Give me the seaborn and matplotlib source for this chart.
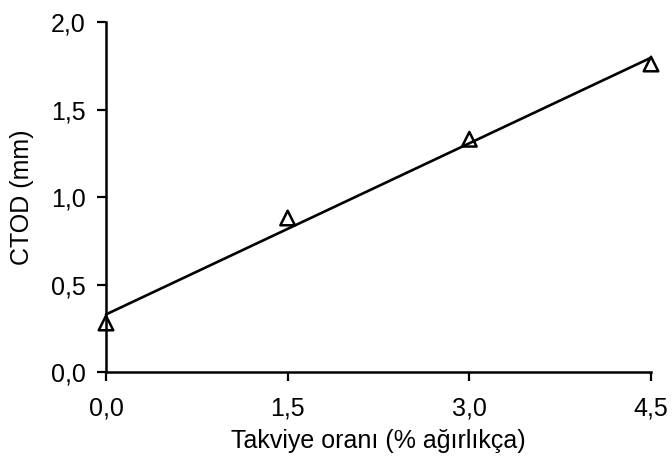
import matplotlib
matplotlib.use("Agg")
import matplotlib.pyplot as plt
import seaborn as sns
import pandas as pd
from matplotlib.ticker import FixedLocator, FuncFormatter

# Data
takviye = [0.0, 1.5, 3.0, 4.5]          # Takviye oranı (% ağırlıkça)
ctod = [0.28, 0.88, 1.33, 1.76]         # CTOD (mm)
x_ticks = [0.0, 1.5, 3.0, 4.5]
y_ticks = [0.0, 0.5, 1.0, 1.5, 2.0]

df = pd.DataFrame({"Takviye": takviye, "CTOD": ctod})

sns.set_style("ticks")
plt.rcParams["font.family"] = ["Liberation Sans", "DejaVu Sans"]

fig = plt.figure(figsize=(6.72, 4.70), dpi=100)
ax = fig.add_axes([106/672, 1-372/470, (651-106)/672, (372-22)/470])

sns.regplot(data=df, x="Takviye", y="CTOD", ax=ax, ci=None, truncate=True,
            marker="^",
            scatter_kws=dict(s=110, facecolors="none", edgecolors="black", linewidths=1.8,
                             alpha=1, zorder=3),
            line_kws=dict(color="black", linewidth=1.9))

ax.set_xlim(0, 4.5)
ax.set_ylim(0, 2.0)
ax.xaxis.set_major_locator(FixedLocator(x_ticks))
ax.yaxis.set_major_locator(FixedLocator(y_ticks))
fmt = FuncFormatter(lambda v, p: f"{v:.1f}".replace(".", ","))
ax.xaxis.set_major_formatter(fmt)
ax.yaxis.set_major_formatter(fmt)

fs = 18
ax.set_xlabel("Takviye oranı (% ağırlıkça)", fontsize=fs, labelpad=6, color="black")
ax.set_ylabel("CTOD (mm)", fontsize=fs, labelpad=12, color="black")
ax.tick_params(axis="both", labelsize=fs, length=6.5, width=1.6, color="black",
               labelcolor="black", direction="out")
ax.tick_params(axis="x", pad=11)
ax.tick_params(axis="y", pad=8)

for s in ["top", "right"]:
    ax.spines[s].set_visible(False)
for s in ["left", "bottom"]:
    ax.spines[s].set_linewidth(1.8)
    ax.spines[s].set_color("black")
    ax.spines[s].set_zorder(1)

for coll in ax.collections:
    coll.set_clip_on(False)
for ln in ax.lines:
    ln.set_clip_on(False)

fig.savefig("out.png", dpi=100)
